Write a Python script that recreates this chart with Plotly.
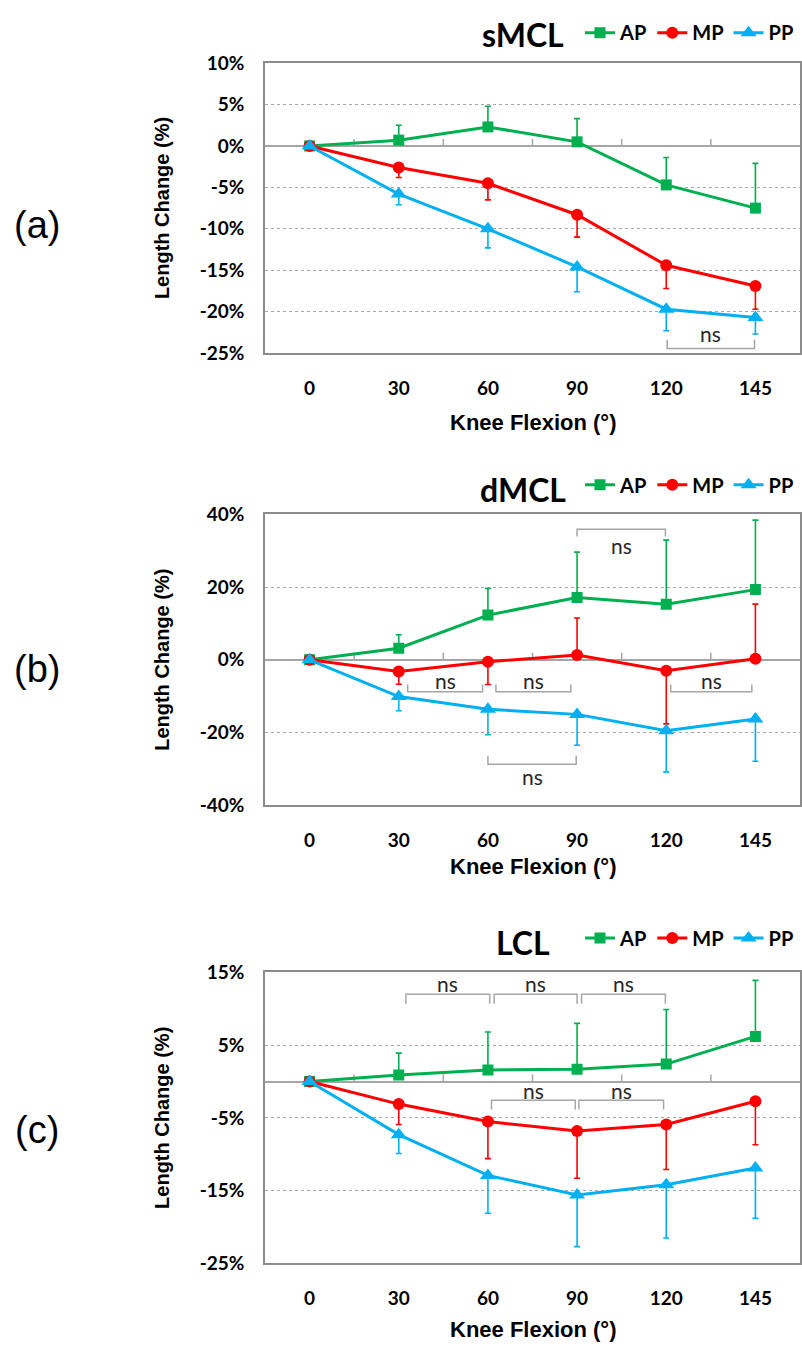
import plotly.graph_objects as go

# ---------------- data ----------------
angles = ["0", "30", "60", "90", "120", "145"]
series = ["AP", "MP", "PP"]

# sMCL (a)
smcl_ap = [0, 0.7, 2.3, 0.5, -4.7, -7.5]
smcl_ap_up = [0, 1.8, 2.5, 2.8, 3.3, 5.4]
smcl_ap_dn = [0, 0, 0, 0, 0, 0]
smcl_mp = [0, -2.6, -4.5, -8.3, -14.4, -16.9]
smcl_mp_up = [0, 0, 0, 0, 0, 0]
smcl_mp_dn = [0, 1.2, 2.0, 2.7, 2.8, 2.8]
smcl_pp = [0, -5.8, -10.0, -14.6, -19.7, -20.7]
smcl_pp_up = [0, 0, 0, 0, 0, 0]
smcl_pp_dn = [0, 1.3, 2.3, 3.0, 2.6, 2.0]

# dMCL (b)
dmcl_ap = [0, 3.2, 12.3, 17.1, 15.3, 19.3]
dmcl_ap_up = [0, 3.7, 7.3, 12.5, 17.6, 19.1]
dmcl_ap_dn = [0, 0, 0, 0, 0, 0]
dmcl_mp = [0, -3.2, -0.5, 1.3, -3.0, 0.3]
dmcl_mp_up = [0, 0, 0, 10.2, 0, 15.0]
dmcl_mp_dn = [0, 3.5, 6.3, 0, 14.6, 0]
dmcl_pp = [0, -10.1, -13.6, -15.0, -19.5, -16.3]
dmcl_pp_up = [0, 0, 0, 0, 0, 0]
dmcl_pp_dn = [0, 3.9, 7.0, 8.5, 11.3, 11.6]

# LCL (c)
lcl_ap = [0, 0.9, 1.6, 1.7, 2.4, 6.2]
lcl_ap_up = [0, 3.0, 5.2, 6.3, 7.5, 7.7]
lcl_ap_dn = [0, 0, 0, 0, 0, 0]
lcl_mp = [0, -3.1, -5.5, -6.8, -5.9, -2.7]
lcl_mp_up = [0, 0, 0, 0, 0, 0]
lcl_mp_dn = [0, 2.8, 5.1, 6.5, 6.2, 6.0]
lcl_pp = [0, -7.3, -12.9, -15.6, -14.2, -11.9]
lcl_pp_up = [0, 0, 0, 0, 0, 0]
lcl_pp_dn = [0, 2.6, 5.2, 7.1, 7.3, 6.9]

panel_titles = ["sMCL", "dMCL", "LCL"]
panel_letters = ["(a)", "(b)", "(c)"]
smcl_ticks = [-25, -20, -15, -10, -5, 0, 5, 10]
dmcl_ticks = [-40, -20, 0, 20, 40]
lcl_ticks = [-25, -15, -5, 5, 15]

# "ns" brackets: panel, from (category index), to, bar level, leg end, text level
ns_brackets = [
    (1, 4.01, 4.99, -24.45, -23.4, -22.6),
    (2, 1.10, 1.94, -8.8, -6.8, -5.7),
    (2, 2.09, 2.93, -8.8, -6.8, -5.7),
    (2, 4.05, 4.96, -8.8, -6.8, -5.7),
    (2, 2.00, 2.99, -28.7, -26.4, -32.1),
    (2, 3.00, 3.99, 35.9, 33.9, 31.5),
    (3, 1.08, 2.02, 12.0, 10.7, 13.5),
    (3, 2.07, 3.00, 12.0, 10.7, 13.5),
    (3, 3.05, 3.99, 12.0, 10.7, 13.5),
    (3, 2.04, 2.98, -2.57, -3.83, -1.2),
    (3, 3.02, 3.97, -2.57, -3.83, -1.2),
]

panel_data = [
    [(smcl_ap, smcl_ap_up, smcl_ap_dn), (smcl_mp, smcl_mp_up, smcl_mp_dn), (smcl_pp, smcl_pp_up, smcl_pp_dn)],
    [(dmcl_ap, dmcl_ap_up, dmcl_ap_dn), (dmcl_mp, dmcl_mp_up, dmcl_mp_dn), (dmcl_pp, dmcl_pp_up, dmcl_pp_dn)],
    [(lcl_ap, lcl_ap_up, lcl_ap_dn), (lcl_mp, lcl_mp_up, lcl_mp_dn), (lcl_pp, lcl_pp_up, lcl_pp_dn)],
]
panel_ticks = [smcl_ticks, dmcl_ticks, lcl_ticks]

# ---------------- styling / layout ----------------
W, H = 802, 1355
colors = ["#00B050", "#FF0000", "#00B0F0"]
symbols = ["square", "circle", "triangle-up"]
msizes = [11, 12, 14]
CAL = "Lato, 'Open Sans', sans-serif"
ARI = "'Liberation Sans', Arial, sans-serif"

def px(x):
    return x / W

def py(y):
    return 1 - y / H

plot_left, plot_right = 265, 800
panel_px = [(52, 347), (511, 807), (977, 1273)]       # top, bottom of plot areas
title_y = [23, 486, 947]
legend_y = [21, 481, 942]
letter_y = [217, 668, 1137]
xtitle_y = [418, 869, 1340]

x_idx = list(range(len(angles)))

fig = go.Figure()
for p in range(3):
    ax = "" if p == 0 else str(p + 1)
    for s in range(3):
        vals, up, dn = panel_data[p][s]
        fig.add_trace(go.Scatter(
            x=x_idx, y=vals, name=series[s], mode="lines+markers",
            xaxis="x" + ax, yaxis="y" + ax,
            legend="legend" + ax,
            line=dict(color=colors[s], width=3),
            marker=dict(symbol=symbols[s], size=msizes[s], color=colors[s]),
            error_y=dict(type="data", symmetric=False, array=up, arrayminus=dn,
                         color=colors[s], thickness=1.6, width=3),
        ))

layout = dict(width=W, height=H, margin=dict(l=0, r=0, t=0, b=0),
              paper_bgcolor="white", plot_bgcolor="white", showlegend=True)
shapes = []
annotations = []
for p in range(3):
    ax = "" if p == 0 else str(p + 1)
    top, bot = panel_px[p]
    tks = panel_ticks[p]
    layout["xaxis" + ax] = dict(
        domain=[px(plot_left), px(plot_right)], anchor="y" + ax,
        range=[-0.5, len(angles) - 0.5], tickvals=x_idx, ticktext=angles,
        showgrid=False, zeroline=False, showline=True, mirror=True,
        linecolor="#8C8C8C", linewidth=1.5, ticks="",
        ticklabelstandoff=17,
        tickfont=dict(family=CAL, size=19, color="#000000", weight="bold"),
    )
    layout["yaxis" + ax] = dict(
        domain=[py(bot), py(top)], anchor="x" + ax,
        range=[tks[0], tks[-1]], tickvals=tks, ticktext=[f"{v}%" for v in tks],
        showgrid=True, gridcolor="#A6A6A6", griddash="dot", gridwidth=1,
        zeroline=True, zerolinecolor="#A6A6A6", zerolinewidth=1.8,
        showline=True, mirror=True, linecolor="#8C8C8C", linewidth=1.5, ticks="",
        ticklabelstandoff=15,
        tickfont=dict(family=CAL, size=19, color="#000000", weight="bold"),
    )
    layout["legend" + ax] = dict(
        orientation="h", x=px(799), xanchor="right", y=py(legend_y[p]), yanchor="middle",
        bgcolor="rgba(0,0,0,0)", font=dict(family=CAL, size=20, color="#000000", weight="bold"),
        itemwidth=30, tracegroupgap=0, entrywidth=0,
    )
    for i in range(len(angles) - 1):
        shapes.append(dict(type="line", xref="x" + ax, yref="y" + ax,
                           x0=i + 0.5, x1=i + 0.5, ysizemode="pixel", yanchor=0,
                           y0=0, y1=7, line=dict(color="#A6A6A6", width=1.5), layer="below"))
    annotations.append(dict(text=panel_titles[p], xref="paper", yref="paper",
                            x=px(523), y=py(title_y[p]), xanchor="center", yanchor="middle",
                            showarrow=False, font=dict(family=CAL, size=32, color="#000000", weight="bold")))
    annotations.append(dict(text=panel_letters[p], xref="paper", yref="paper",
                            x=px(37), y=py(letter_y[p]), xanchor="center", yanchor="middle",
                            showarrow=False, font=dict(family=ARI, size=38, color="#000000")))
    annotations.append(dict(text="Length Change (%)", xref="paper", yref="paper",
                            x=px(162), y=py((top + bot) / 2), xanchor="center", yanchor="middle",
                            textangle=-90, showarrow=False,
                            font=dict(family=ARI, size=20, color="#000000", weight="bold")))
    annotations.append(dict(text="Knee Flexion (°)", xref="paper", yref="paper",
                            x=px((plot_left + plot_right) / 2), y=py(xtitle_y[p]),
                            xanchor="center", yanchor="middle", showarrow=False,
                            font=dict(family=ARI, size=22, color="#000000", weight="bold")))

for (p, xa, xb, ybar, yleg, ytxt) in ns_brackets:
    ax = "" if p == 1 else str(p)
    shapes.append(dict(type="path", xref="x" + ax, yref="y" + ax,
                       path=f"M {xa},{yleg} L {xa},{ybar} L {xb},{ybar} L {xb},{yleg}",
                       line=dict(color="#A6A6A6", width=1.5)))
    annotations.append(dict(text="ns", xref="x" + ax, yref="y" + ax,
                            x=(xa + xb) / 2, y=ytxt, xanchor="center", yanchor="middle",
                            showarrow=False, font=dict(family=CAL, size=21, color="#262626")))

layout["shapes"] = shapes
layout["annotations"] = annotations
fig.update_layout(**layout)
fig.write_html("out.html", config={"displayModeBar": False},
               post_script="document.body.style.margin='0px';document.body.style.overflow='hidden';")
